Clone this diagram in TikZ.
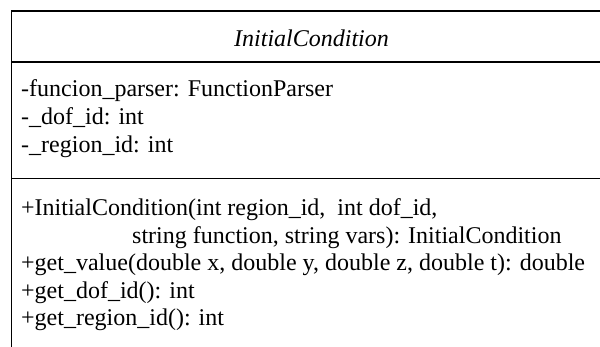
\documentclass[tikz,border=0pt]{standalone}
\usepackage{fontspec}
\setmainfont{Liberation Serif}
\begin{document}
\begin{tikzpicture}[x=1pt,y=-1pt,
  umltext/.style={anchor=base west, inner sep=0pt, font=\fontsize{24}{27.6}\selectfont},
  umltitle/.style={anchor=base, inner sep=0pt, font=\fontsize{24}{27.6}\selectfont\itshape},
  rule/.style={line width=1.6pt, black, line cap=rect}]
\clip (0,0) rectangle (600,347);

% class frame: left edge, top edge and the two compartment dividers
\coordinate (bl) at (11.5,360);
\coordinate (tl) at (11.5,11);
\coordinate (tr) at (620,11);
\coordinate (hl) at (11.5,62);
\coordinate (hr) at (620,62);
\coordinate (al) at (11.5,178.5);
\coordinate (ar) at (620,178.5);
\draw[rule] (bl) -- (tl) -- (tr);
\draw[rule] (hl) -- (hr);
\draw[rule] (al) -- (ar);

% class name
\node[umltitle] (title) at (311.5,46.5) {InitialCondition};

% attributes
\node[umltext] (a1) at (21,97) {-funcion\_parser: FunctionParser};
\node[umltext] (a2) at (21,124.6) {-\_dof\_id: int};
\node[umltext] (a3) at (21,152.2) {-\_region\_id: int};

% operations
\node[umltext] (m1) at (21,215.5) {+InitialCondition(int region\_id,\ \ int dof\_id,};
\node[umltext] (m1b) at (132,243.1) {string function, string vars): InitialCondition};
\node[umltext] (m2) at (21,270.7) {+get\_value(double x, double y, double z, double t): double};
\node[umltext] (m3) at (21,298.3) {+get\_dof\_id(): int};
\node[umltext] (m4) at (21,325.9) {+get\_region\_id(): int};
\end{tikzpicture}
\end{document}
